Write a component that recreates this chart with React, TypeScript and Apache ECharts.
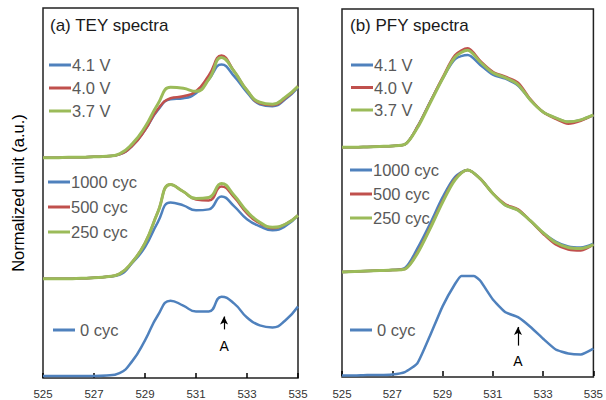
import React, { useEffect, useRef } from "react";
import * as echarts from "echarts";

// Photon energy (eV)
const energies = [525, 525.5, 526, 526.5, 527, 527.5, 528, 528.5, 529, 529.5, 530, 530.5, 531, 531.5, 532, 532.5, 533, 533.5, 534, 534.5, 535];
const energiesPfy0 = [525, 525.5, 526, 526.5, 527, 527.5, 528, 528.5, 529, 529.5, 529.75, 530.25, 530.5, 531, 531.5, 532, 532.5, 533, 533.5, 534, 534.5, 535];
const xTicks = { min: 525, max: 535, step: 2 };

// (a) TEY spectra (offset, arbitrary units)
const tey41 = [222, 222, 222.5, 222.5, 223, 223.5, 225.5, 234, 250, 270, 281, 282, 287, 301, 316, 304, 288, 276, 274, 281, 293];
const tey40 = [222, 222, 222.5, 222.5, 223, 223.5, 225.5, 234, 250, 271, 282, 284, 289, 305, 325, 309, 290, 277, 275, 282, 294];
const tey37 = [222, 222, 222.5, 222.5, 223, 223.5, 226, 236, 253, 276, 293, 292, 289, 301, 323, 309, 290, 278, 276, 283, 294];
const tey1000 = [100, 100, 100, 100.5, 101, 102, 104, 116, 132, 157, 177, 174, 169, 170, 183, 173, 160, 153, 149, 153, 164];
const tey500 = [100, 100, 100, 100.5, 101, 102, 105, 117, 136, 167, 195, 188, 180, 179, 193, 182, 166, 156, 151, 155, 164];
const tey250 = [100, 100, 100, 100.5, 101, 102, 105, 117, 136, 167, 195, 188, 181, 182, 196, 184, 168, 157, 152, 155, 164];
const tey0 = [2, 2, 2, 2, 2, 2.5, 5, 17, 38, 63, 78, 73, 67, 67, 82, 75, 61, 53, 51, 58, 72];

// (b) PFY spectra (offset, arbitrary units)
const pfy41 = [233, 233, 233.5, 234, 234.5, 236, 254, 279, 303, 323, 327, 317, 307, 303, 296, 281, 269, 263, 259, 261, 266];
const pfy40 = [233, 233, 233.5, 234, 234.5, 236, 254, 279, 304, 327, 334, 321, 310, 305, 299, 282, 269, 262, 257, 260, 266];
const pfy37 = [233, 233, 233.5, 234, 234.5, 236, 253, 278, 303, 325, 332, 320, 309, 304, 297, 281, 269, 263, 259, 261, 266];
const pfy1000 = [106, 106.5, 107, 107.5, 108, 110, 130, 155, 182, 203, 210, 201, 186, 174, 169, 158, 146, 137, 132, 131, 135];
const pfy500 = [106, 106.5, 107, 107.5, 108, 109, 126, 151, 178, 201, 210, 201, 186, 175, 170, 158, 145, 134, 129, 128, 134];
const pfy250 = [106, 106.5, 107, 107.5, 108, 109, 125, 150, 177, 200, 210, 201, 186, 174, 169, 158, 146, 136, 131, 130, 134];
const pfy0 = [0.5, 0.5, 1, 1, 1.5, 4, 13, 41, 71, 94, 102, 102, 97, 78, 65, 60, 50, 38, 27, 23, 22, 28];

// Arrow "A" annotations: [energy, yFrom, yTo]
const arrowTey = [532.1, 49, 62];
const arrowPfy = [532.0, 31, 50];

const BLUE = "#4f81bd";
const RED = "#c0504d";
const GREEN = "#9bbb59";
const FONT = "'Liberation Sans', Arial, sans-serif";

const pairs = (xs: number[], ys: number[]) => xs.map((x, i) => [x, ys[i]]);

export default function App() {
  const ref = useRef<HTMLDivElement>(null);
  useEffect(() => {
    if (!ref.current) return;
    const chart = echarts.init(ref.current, null, { renderer: "svg" });

    const line = (name: string, idx: number, xs: number[], ys: number[], color: string, width: number, smooth: number | boolean, extra: any = {}) => ({
      type: "line",
      name,
      xAxisIndex: idx,
      yAxisIndex: idx,
      data: pairs(xs, ys),
      symbol: "none",
      smooth,
      color,
      lineStyle: { color, width },
      ...extra,
    });

    const arrow = (a: number[], labelDist: number) => ({
      markLine: {
        silent: true,
        symbol: ["none", "arrow"],
        symbolSize: [6, 8],
        lineStyle: { color: "#000", width: 1.2, type: "solid" },
        label: { show: true, position: "start", formatter: "A", color: "#000", fontSize: 14, fontFamily: FONT, distance: labelDist },
        data: [[{ coord: [a[0], a[1]] }, { coord: [a[0], a[2]] }]],
      },
    });

    const legendBase = {
      orient: "vertical",
      icon: "rect",
      itemWidth: 22,
      itemHeight: 3,
      padding: 0,
      selectedMode: false,
      textStyle: { color: "#595959", fontSize: 16.5, fontFamily: FONT, lineHeight: 20, padding: [0, 0, 0, -4] },
    };

    const xAxisBase = (gridIndex: number, margin: number) => ({
      type: "value",
      gridIndex,
      min: xTicks.min,
      max: xTicks.max,
      interval: xTicks.step,
      axisLine: { show: false },
      axisTick: { show: true, inside: true, length: 5, lineStyle: { color: "#000", width: 1.5 } },
      axisLabel: { color: "#333", fontSize: 11.5, fontFamily: FONT, margin },
      splitLine: { show: false },
    });

    chart.setOption({
      animation: false,
      backgroundColor: "#fff",
      title: [
        { text: "(a) TEY spectra", left: 50, top: 15, padding: 0, textStyle: { color: "#1a1a1a", fontSize: 17, fontWeight: "normal", fontFamily: FONT, lineHeight: 20 } },
        { text: "(b) PFY spectra", left: 350, top: 15, padding: 0, textStyle: { color: "#1a1a1a", fontSize: 17, fontWeight: "normal", fontFamily: FONT, lineHeight: 20 } },
      ],
      grid: [
        { left: 43, top: 8, width: 255, height: 373, show: true, borderColor: "#222", borderWidth: 1.5, backgroundColor: "transparent" },
        { left: 342, top: 9, width: 256, height: 375, show: true, borderColor: "#222", borderWidth: 1.5, backgroundColor: "transparent" },
      ],
      xAxis: [xAxisBase(0, 10), xAxisBase(1, 11)],
      yAxis: [
        {
          type: "value", gridIndex: 0, min: 0, max: 373,
          axisLine: { show: false }, axisTick: { show: false }, axisLabel: { show: false }, splitLine: { show: false },
          name: "Normalized unit (a.u.)", nameLocation: "middle", nameGap: 17,
          nameTextStyle: { color: "#000", fontSize: 16.5, fontFamily: FONT },
        },
        {
          type: "value", gridIndex: 1, min: -1, max: 374,
          axisLine: { show: false }, axisTick: { show: false }, axisLabel: { show: false }, splitLine: { show: false },
        },
      ],
      legend: [
        { ...legendBase, left: 49, top: 55, itemGap: 3, data: ["4.1 V", "4.0 V", "3.7 V"] },
        { ...legendBase, left: 48, top: 172, itemGap: 5, data: ["1000 cyc", "500 cyc", "250 cyc"] },
        { ...legendBase, left: 53, top: 320, itemGap: 5, data: ["0 cyc"], textStyle: { ...legendBase.textStyle, padding: 0 } },
        { ...legendBase, left: 351, top: 55, itemGap: 2.5, data: ["4.1 V", "4.0 V", "3.7 V"] },
        { ...legendBase, left: 350, top: 160, itemGap: 4, data: ["1000 cyc", "500 cyc", "250 cyc"] },
        { ...legendBase, left: 350, top: 320, itemGap: 5, data: ["0 cyc"], textStyle: { ...legendBase.textStyle, padding: 0 } },
      ],
      series: [
        line("4.1 V", 0, energies, tey41, BLUE, 2.5, true),
        line("4.0 V", 0, energies, tey40, RED, 2.5, true),
        line("3.7 V", 0, energies, tey37, GREEN, 3, true),
        line("1000 cyc", 0, energies, tey1000, BLUE, 2.5, true),
        line("500 cyc", 0, energies, tey500, RED, 2.5, true),
        line("250 cyc", 0, energies, tey250, GREEN, 3, true),
        line("0 cyc", 0, energies, tey0, BLUE, 2.5, true, arrow(arrowTey, 10)),
        line("4.1 V", 1, energies, pfy41, BLUE, 2.5, 0.3),
        line("4.0 V", 1, energies, pfy40, RED, 2.5, 0.3),
        line("3.7 V", 1, energies, pfy37, GREEN, 3, 0.3),
        line("1000 cyc", 1, energies, pfy1000, BLUE, 2.5, 0.3),
        line("500 cyc", 1, energies, pfy500, RED, 2.5, 0.3),
        line("250 cyc", 1, energies, pfy250, GREEN, 3, 0.3),
        line("0 cyc", 1, energiesPfy0, pfy0, BLUE, 2.5, 0.15, arrow(arrowPfy, 8)),
      ],
    });
    return () => chart.dispose();
  }, []);
  return <div ref={ref} style={{ position: "fixed", left: 0, top: 0, width: 606, height: 400 }} />;
}
